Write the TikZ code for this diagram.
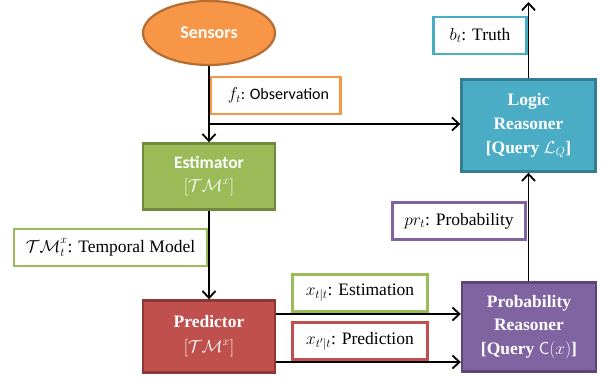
\documentclass[tikz,border=0pt]{standalone}
\usepackage{fontspec}
\setmainfont{Liberation Serif}
\newfontfamily\calib{Carlito}
\usetikzlibrary{arrows.meta,shapes.geometric,calc}

\definecolor{orfill}{HTML}{F79646}\definecolor{ordraw}{HTML}{B66D31}
\definecolor{grfill}{HTML}{9BBB59}\definecolor{grdraw}{HTML}{71893F}
\definecolor{rdfill}{HTML}{C0504D}\definecolor{rddraw}{HTML}{8C3836}
\definecolor{pufill}{HTML}{8064A2}\definecolor{pudraw}{HTML}{5C4776}
\definecolor{blfill}{HTML}{4BACC6}\definecolor{bldraw}{HTML}{357D91}

\tikzset{
  mainbox/.style={rectangle, line width=2.4pt, text=white, align=center,
    minimum width=132pt, inner sep=0pt},
  tag/.style={rectangle, draw=#1, line width=2.6pt, fill=white, inner sep=0pt,
    minimum height=37pt, font=\fontsize{17.5}{20}\selectfont},
  conn/.style={line width=1.8pt, -{Straight Barb[length=7pt,width=13pt,line width=1.8pt]}},
}

\begin{document}
\begin{tikzpicture}[x=1pt,y=-1pt]
\useasboundingbox (0,0) rectangle (602,379);

% processing blocks
\node[ellipse, draw=ordraw, fill=orfill, line width=2.2pt, minimum width=132pt,
  minimum height=64pt, text=white, font=\calib\bfseries\fontsize{18}{20}\selectfont]
  (sensors) at (209,33) {Sensors};
\node[mainbox, draw=grdraw, fill=grfill, minimum height=66pt,
  font=\calib\bfseries\fontsize{17.5}{23}\selectfont] (est) at (209,176.5)
  {Estimator\\{\mdseries$[\mathcal{TM}^{x}]$}};
\node[mainbox, draw=rddraw, fill=rdfill, minimum height=72pt,
  font=\bfseries\fontsize{17.5}{25}\selectfont] (pred) at (209,336.5)
  {Predictor\\{\mdseries$[\mathcal{TM}^{x}]$}};
\node[mainbox, draw=bldraw, fill=blfill, minimum width=134pt, minimum height=92pt,
  font=\bfseries\fontsize{17.5}{24}\selectfont] (logic) at (528.5,125.5)
  {Logic\\Reasoner\\{}[Query $\mathcal{L}_{Q}$]};
\node[mainbox, draw=pudraw, fill=pufill, minimum width=134pt, minimum height=89pt,
  font=\bfseries\fontsize{17.5}{23.5}\selectfont] (prob) at (529,327)
  {Probability\\Reasoner\\{}[Query $\mathsf{C}(x)$]};

% signal labels
\node[tag=orfill, minimum width=130pt, font=\calib\fontsize{16}{18}\selectfont]
  (obs) at (275.5,95.5) {\hspace{6pt}$f_t$: Observation};
\node[tag=grfill, minimum width=193pt] (tm) at (110.5,247.5)
  {$\mathcal{TM}_{t}^{\raisebox{1.5pt}{$\scriptstyle x$}}$: Temporal Model};
\node[tag=grfill, minimum width=135pt] (estl) at (360,293)
  {$x_{t|t}$: Estimation};
\node[tag=rdfill, minimum width=135pt] (predl) at (360,341)
  {$x_{t'|t}$: Prediction};
\node[tag=pufill, minimum width=133pt] (probl) at (459,221)
  {$pr_t$: Probability};
\node[tag=blfill, minimum width=93pt] (truth) at (480,35.5)
  {$b_t$: Truth};

% connectors
\coordinate (split) at (209,124);
\coordinate (out) at (528.5,2);
\draw[conn] (sensors.south) -- (est.north);
\draw[conn] (split) -- (split -| logic.west);
\draw[conn] (est.south) -- (pred.north);
\draw[conn] (pred.east |- 0,314) -- (prob.west |- 0,314);
\draw[conn] (pred.east |- 0,362) -- (prob.west |- 0,362);
\draw[conn] (prob.north -| logic.south) -- (logic.south);
\draw[conn] (logic.north) -- (out);
\end{tikzpicture}
\end{document}
